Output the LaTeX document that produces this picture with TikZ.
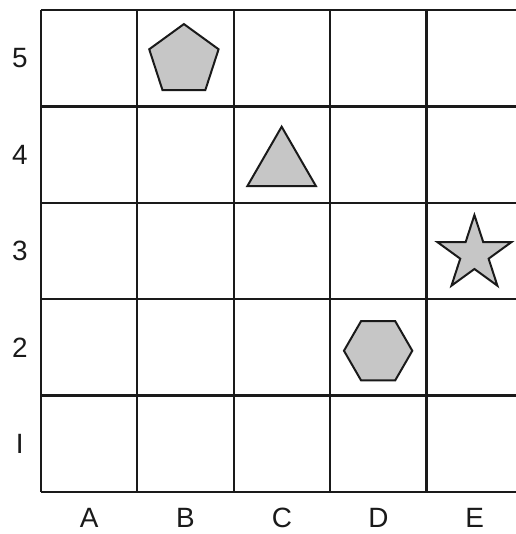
\documentclass[tikz,border=0pt]{standalone}
\usepackage{fontspec}
\setmainfont{Liberation Sans}
\usetikzlibrary{shapes.geometric}
\definecolor{brdink}{HTML}{1A1A1A}
\definecolor{brdgray}{HTML}{C6C6C6}
\tikzset{
  gridline/.style={draw=brdink, line width=1.1pt, step=1.7cm},
  piece/.style={draw=brdink, line width=1pt, fill=brdgray, inner sep=0pt},
  axlabel/.style={font=\fontsize{14}{16}\selectfont, text=brdink, inner sep=0pt},
}
\begin{document}
\begin{tikzpicture}[x=1.7cm, y=1.7cm]
  \clip (-0.425,-0.436) rectangle (4.927,5.104);
  % board
  \draw[gridline] (0,0) grid (5,5);
  % row and column labels
  \foreach \n [count=\i] in {I,2,3,4,5}
    \node[axlabel] (row\i) at (-0.22,\i-0.5) {\n};
  \foreach \c [count=\i] in {A,B,C,D,E}
    \node[axlabel] (col\c) at (\i-0.5,-0.265) {\c};
  % pieces
  \node[piece, regular polygon, regular polygon sides=5, minimum size=36.6pt] (pent) at (1.483,4.476) {};
  \node[piece, regular polygon, regular polygon sides=3, minimum size=39.8pt] (tri) at (2.497,3.378) {};
  \node[piece, star, star points=5, star point ratio=2.618, minimum size=39.2pt] (star) at (4.497,2.468) {};
  \node[piece, regular polygon, regular polygon sides=6, minimum size=34.3pt] (hex) at (3.498,1.465) {};
\end{tikzpicture}
\end{document}
